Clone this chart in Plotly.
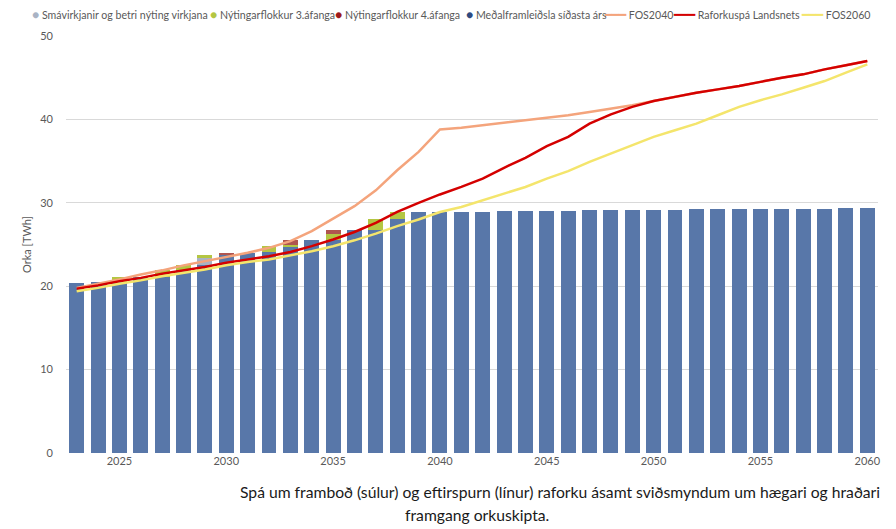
#!/usr/bin/env python3
"""Framboð og eftirspurn raforku - stacked bars with demand scenarios."""

import plotly.graph_objects as go

YEARS = list(range(2023, 2061))

# Meðalframleiðsla síðasta árs (TWh)
BASE = [
    20.4, 20.5, 20.5, 21.1, 21.1, 22.0, 22.5, 23.8, 24.0, 24.1,
    24.8, 25.6, 25.6, 26.7, 26.7, 28.0, 28.9, 28.9,
    28.9, 28.95, 29.0, 29.0, 29.05, 29.05, 29.1, 29.1, 29.1, 29.15,
    29.15, 29.2, 29.2, 29.2, 29.25, 29.25, 29.3, 29.3, 29.35, 29.35,
]
# Smávirkjanir og betri nýting virkjana
SMALL = {2029: 0.9}
# Nýtingarflokkur 3.áfanga
PHASE3 = {2025: 0.6, 2027: 0.9, 2028: 0.5, 2029: 0.4, 2032: 0.7,
          2033: 0.2, 2035: 0.7, 2037: 1.3, 2038: 0.9}
# Nýtingarflokkur 4.áfanga
PHASE4 = {2030: 0.2, 2033: 0.6, 2035: 0.4}

FOS2040 = [
    19.8, 20.3, 20.8, 21.4, 21.9, 22.5, 23.0, 23.5, 24.0, 24.6,
    25.4, 26.6, 28.1, 29.6, 31.5, 33.9, 36.1, 38.8,
    39.0, 39.3, 39.6, 39.9, 40.2, 40.5, 40.9, 41.3, 41.7, 42.2,
    42.7, 43.2, 43.6, 44.0, 44.5, 45.0, 45.4, 46.0, 46.5, 47.0,
]
LANDSNET = [
    19.7, 20.1, 20.6, 21.0, 21.5, 21.9, 22.3, 22.8, 23.2, 23.6,
    24.1, 24.8, 25.6, 26.5, 27.6, 28.9, 30.0, 31.0,
    31.9, 32.9, 34.2, 35.4, 36.8, 37.9, 39.5, 40.6, 41.5, 42.2,
    42.7, 43.2, 43.6, 44.0, 44.5, 45.0, 45.4, 46.0, 46.5, 47.0,
]
FOS2060 = [
    19.4, 19.8, 20.3, 20.7, 21.2, 21.6, 22.0, 22.5, 22.9, 23.2,
    23.7, 24.2, 24.8, 25.5, 26.3, 27.2, 28.0, 28.9,
    29.5, 30.3, 31.1, 31.9, 32.9, 33.8, 34.9, 35.9, 36.9, 37.9,
    38.7, 39.5, 40.5, 41.5, 42.3, 43.0, 43.8, 44.6, 45.6, 46.6,
]

X_TICKS = [2025, 2030, 2035, 2040, 2045, 2050, 2055, 2060]
Y_TICKS = [0, 10, 20, 30, 40, 50]

CAPTION_1 = 'Spá um framboð (súlur) og eftirspurn (línur) raforku ásamt sviðsmyndum um hægari og hraðari'
CAPTION_2 = 'framgang orkuskipta.'

BLUE = '#5877A9'
GRAY = '#A9B3C4'
GREEN = '#B4C642'
DARKRED = '#B0554F'
ORANGE = '#F4A47C'
RED = '#D40000'
YELLOW = '#F4E56C'
TEXT = '#595959'

# the page body adds an 8px margin, so the figure is laid out 8px up/left
OFF = 8
W, H = 896 - OFF, 529 - OFF
ML, MT = 66 - OFF, 36 - OFF
PLOT_R, PLOT_B = 878 - OFF, 453 - OFF
MR, MB = W - PLOT_R, H - PLOT_B
PLOT_W, PLOT_H = PLOT_R - ML, PLOT_B - MT
TEXT_GAP = 41  # distance from a legend box's left edge to its text


def series(extra: dict) -> list:
    return [extra.get(y) for y in YEARS]


def build_figure() -> go.Figure:
    fig = go.Figure()

    bars = [
        ('Meðalframleiðsla síðasta árs', BASE, BLUE),
        ('Smávirkjanir og betri nýting virkjana', series(SMALL), GRAY),
        ('Nýtingarflokkur 3.áfanga', series(PHASE3), GREEN),
        ('Nýtingarflokkur 4.áfanga', series(PHASE4), DARKRED),
    ]
    for name, vals, color in bars:
        fig.add_trace(go.Bar(x=YEARS, y=vals, name=name, marker_color=color,
                             marker_line_width=0, showlegend=False))

    lines = [
        ('FOS2040', FOS2040, ORANGE),
        ('Raforkuspá Landsnets', LANDSNET, RED),
        ('FOS2060', FOS2060, YELLOW),
    ]
    for name, vals, color in lines:
        fig.add_trace(go.Scatter(x=YEARS, y=vals, mode='lines', name=name,
                                 line=dict(color=color, width=2.5), showlegend=False))

    # each legend entry gets its own legend box so it can sit where the original has it;
    # the symbol is set in the text, tight to the label like the original.
    # (name, colour, symbol, left edge in the reference, px)
    entries = [
        ('Smávirkjanir og betri nýting virkjana', GRAY, '●', 33),
        ('Nýtingarflokkur 3.áfanga', GREEN, '●', 211),
        ('Nýtingarflokkur 4.áfanga', '#9E1A1A', '●', 336),
        ('Meðalframleiðsla síðasta árs', '#2F4A80', '●', 467),
        ('FOS2040', ORANGE, '━━━', 606),
        ('Raforkuspá Landsnets', RED, '━━━', 675),
        ('FOS2060', YELLOW, '━━━', 803),
    ]

    legends = {}
    for i, (name, color, symbol, text_x) in enumerate(entries):
        key = 'legend' if i == 0 else f'legend{i + 1}'
        box_left = text_x - OFF - TEXT_GAP
        legends[key] = dict(
            orientation='h', xref='paper', yref='paper',
            x=(box_left - ML) / PLOT_W, xanchor='left',
            y=1 + (MT - (15 - OFF)) / PLOT_H, yanchor='middle',
            font=dict(size=10.6, color=TEXT, family='Lato'),
            itemwidth=30, bgcolor='rgba(0,0,0,0)',
        )
        label = f'<span style="color:{color};font-size:12px">{symbol}</span> {name}'
        fig.add_trace(go.Scatter(x=[None], y=[None], mode='none', name=label,
                                 legend=key))

    fig.update_layout(
        width=W,
        height=H,
        margin=dict(l=ML, r=MR, t=MT, b=MB, autoexpand=False),
        barmode='stack',
        bargap=0.3,
        plot_bgcolor='white',
        paper_bgcolor='white',
        font=dict(family='Lato', color=TEXT, size=11),
        xaxis=dict(range=[2022.5, 2060.5], tickvals=X_TICKS, showgrid=False,
                   zeroline=False, showline=False, ticks='',
                   tickfont=dict(size=11, color=TEXT)),
        yaxis=dict(range=[0, 50], tickvals=Y_TICKS, showgrid=True,
                   gridcolor='#D9D9D9', gridwidth=1, zeroline=False,
                   showline=False, ticks='', ticklabelstandoff=12,
                   title=dict(text='Orka [TWh]', font=dict(size=11, color=TEXT),
                              standoff=6),
                   tickfont=dict(size=11, color=TEXT)),
        **legends,
    )

    caption_font = dict(family='Lato', size=15.7, color='#1A1A1A')
    fig.add_annotation(text=CAPTION_1, xref='paper', yref='paper',
                       x=(560 - OFF - ML) / PLOT_W, y=-(492 - OFF - PLOT_B) / PLOT_H,
                       xanchor='center', yanchor='middle', showarrow=False,
                       font=caption_font)
    fig.add_annotation(text=CAPTION_2, xref='paper', yref='paper',
                       x=(477 - OFF - ML) / PLOT_W, y=-(515 - OFF - PLOT_B) / PLOT_H,
                       xanchor='center', yanchor='middle', showarrow=False,
                       font=caption_font)
    return fig


def main() -> None:
    fig = build_figure()
    fig.write_html('out.html')


if __name__ == '__main__':
    main()
